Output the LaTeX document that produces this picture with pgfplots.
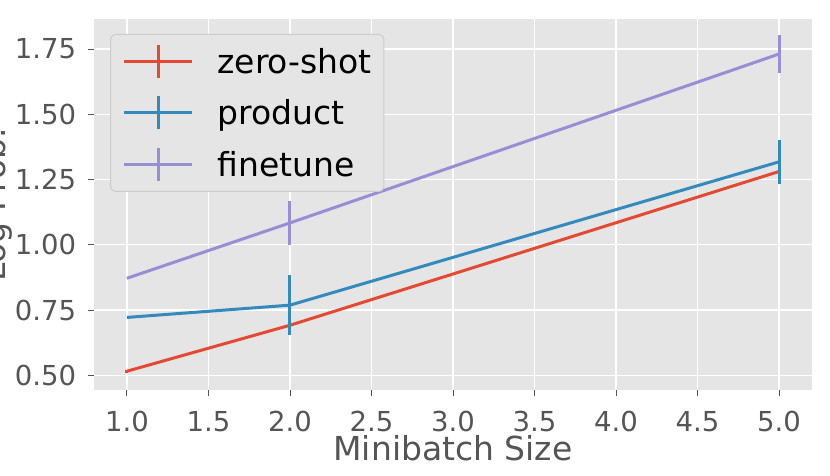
\documentclass[border=0pt]{standalone}
\usepackage{pgfplots}
\pgfplotsset{compat=1.18}
\usepackage{fontspec}
\setmainfont{DejaVu Sans}
\definecolor{ggred}{HTML}{E24A33}
\definecolor{ggblue}{HTML}{348ABD}
\definecolor{ggpurple}{HTML}{988ED5}
\definecolor{ggbg}{HTML}{E5E5E5}
\definecolor{gggray}{HTML}{555555}
\definecolor{ggedge}{HTML}{CCCCCC}
\begin{document}
\begin{tikzpicture}
\begin{axis}[
  at={(0pt,0pt)}, anchor=south west,
  scale only axis, width=717.4pt, height=371pt,
  xmin=0.8, xmax=5.2, ymin=0.444, ymax=1.865,
  axis background/.style={fill=ggbg},
  axis line style={draw=none},
  grid=major, major grid style={white, line width=1.3pt},
  xtick={1,1.5,...,5}, ytick={0.5,0.75,...,1.75},
  xtick pos=lower, ytick pos=left,
  tick align=outside, major tick length=6pt,
  tick style={gggray, line width=0.9pt},
  /pgf/number format/assume math mode=true,
  xticklabel style={/pgf/number format/.cd, fixed, fixed zerofill, precision=1, /tikz/.cd,
     font=\fontsize{27.5}{33}\selectfont, text=gggray, anchor=north, inner sep=0pt, yshift=-15pt},
  yticklabel style={/pgf/number format/.cd, fixed, fixed zerofill, precision=2, /tikz/.cd,
     font=\fontsize{27.5}{33}\selectfont, text=gggray, anchor=east, inner sep=0pt, xshift=-12pt},
  xlabel={Minibatch Size},
  ylabel={Log Prob.},
  xlabel style={font=\fontsize{33}{40}\selectfont, text=gggray, at={(axis description cs:0.5,-0.1887)}, anchor=base, inner sep=0pt},
  ylabel style={font=\fontsize{33}{40}\selectfont, text=gggray, at={(axis description cs:-0.1133,0.5)}, anchor=south, inner sep=0pt},
  legend style={at={(axis description cs:0.0219,0.9596)}, anchor=north west,
     fill=ggbg, draw=ggedge, line width=1pt, rounded corners=5pt,
     inner xsep=12pt, inner ysep=9pt, row sep=15.5pt, column sep=24pt,
     font=\fontsize{33}{40}\selectfont, text=black,
     nodes={inner sep=0pt}},
  legend cell align=left,
  legend image code/.code={
     \draw[#1] (0pt,0pt) -- (68pt,0pt);
     \draw[#1] (34pt,-16.5pt) -- (34pt,16.5pt);
  },
  error bars/y dir=both, error bars/y explicit, error bars/error mark=none,
  error bars/error bar style={line width=3pt},
  every axis plot/.append style={line width=3pt, line join=round},
]
\addplot[ggred] coordinates {(1,0.516) +- (0,0.006) (2,0.692) +- (0,0) (5,1.281) +- (0,0)};
\addlegendentry{zero-shot}
\addplot[ggblue] coordinates {(1,0.722) +- (0,0) (2,0.769) +- (0,0.114) (5,1.318) +- (0,0.085)};
\addlegendentry{product}
\addplot[ggpurple] coordinates {(1,0.872) +- (0,0) (2,1.084) +- (0,0.085) (5,1.731) +- (0,0.073)};
\addlegendentry{finetune}
\end{axis}
\pgfresetboundingbox
\path[use as bounding box] (-94.3pt,-85pt) rectangle (735.7pt,390pt);
\end{tikzpicture}
\end{document}
